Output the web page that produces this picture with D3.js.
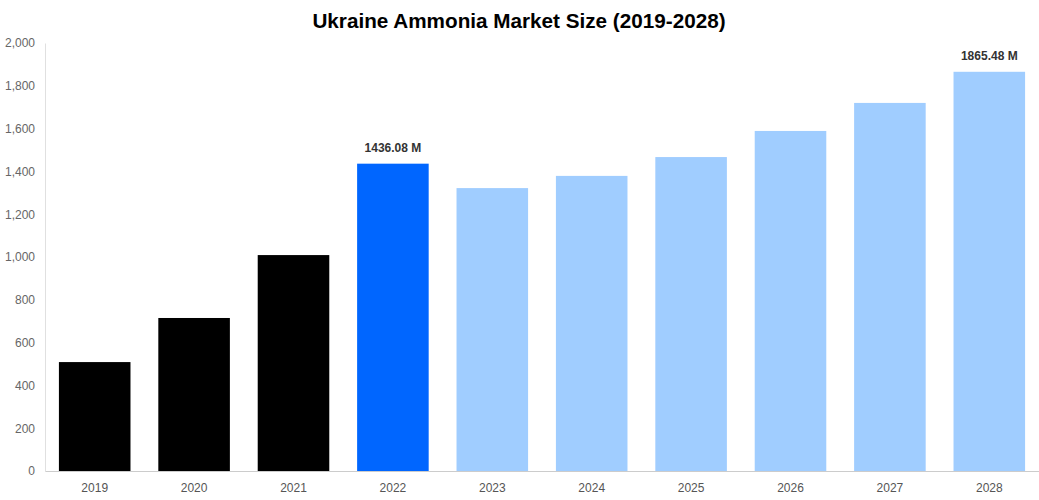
<!DOCTYPE html>
<html><head><meta charset="utf-8">
<script src="https://cdn.jsdelivr.net/npm/d3@7"></script>
<style>body{margin:0;background:#fff;font-family:"Liberation Sans",Arial,sans-serif}</style>
</head><body><svg id="c" width="1039" height="500"></svg>
<script>
const years=["2019","2020","2021","2022","2023","2024","2025","2026","2027","2028"];
const values=[509,715,1009,1436.08,1322,1379,1467,1589,1720,1865.48];
const colors=["#000000","#000000","#000000","#0066ff","#a0cdff","#a0cdff","#a0cdff","#a0cdff","#a0cdff","#a0cdff"];
const labels=["","","","1436.08 M","","","","","","1865.48 M"];
const yTicks=[0,200,400,600,800,1000,1200,1400,1600,1800,2000];
const svg=d3.select("#c");
const x=d3.scaleBand().domain(years).range([45,1039]).paddingInner(0.28).paddingOuter(0.14);
const y=d3.scaleLinear().domain([0,2000]).range([471,43]);
svg.append("text").attr("x",519).attr("y",28).attr("text-anchor","middle").attr("font-size",20.7).attr("font-weight","bold").text("Ukraine Ammonia Market Size (2019-2028)");
const gy=svg.append("g").attr("transform","translate(45,0)").call(d3.axisLeft(y).tickValues(yTicks).tickSize(0).tickPadding(10).tickFormat(d3.format(",")));
gy.select(".domain").attr("stroke","#e0e0e0");
gy.selectAll("text").attr("fill","#666").attr("font-size",12).attr("font-family","Liberation Sans, Arial");
const gx=svg.append("g").attr("transform","translate(0,471)").call(d3.axisBottom(x).tickSize(0).tickPadding(12));
gx.select(".domain").attr("stroke","#ccc");
gx.selectAll("text").attr("fill","#555").attr("font-size",12).attr("font-family","Liberation Sans, Arial");
svg.selectAll("rect.b").data(years).join("rect").attr("x",d=>x(d)).attr("width",x.bandwidth())
 .attr("y",(d,i)=>y(values[i])).attr("height",(d,i)=>471-y(values[i])).attr("fill",(d,i)=>colors[i]);
svg.selectAll("text.l").data(years).join("text").attr("x",d=>x(d)+x.bandwidth()/2).attr("y",(d,i)=>y(values[i])-12)
 .attr("text-anchor","middle").attr("font-size",12).attr("font-weight","bold").attr("fill","#333").text((d,i)=>labels[i]);
</script></body></html>
